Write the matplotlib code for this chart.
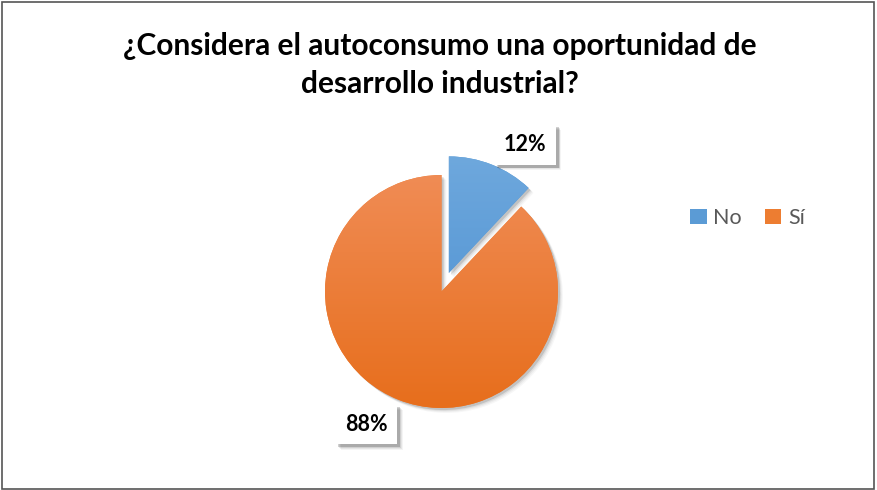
import numpy as np
import matplotlib
matplotlib.use("Agg")
import matplotlib.pyplot as plt
from matplotlib import patheffects as pe
from matplotlib.patches import Rectangle

# --- data ---
categories = ["No", "Sí"]
shares = [12, 88]
colors = ["#5B9BD5", "#ED7D31"]
light_colors = ["#6EA8DD", "#F08C55"]
dark_colors = ["#4A8ED0", "#E76E1C"]
title = "¿Considera el autoconsumo una oportunidad de\ndesarrollo industrial?"

plt.rcParams["font.family"] = ["Lato", "DejaVu Sans"]


def soft_shadow(offset, alpha):
    # a few stacked shadows fake a blurred one
    effs = []
    for k in range(4):
        effs.append(pe.SimplePatchShadow(offset=(offset[0] + k * 0.7, offset[1] - k * 0.7),
                                         shadow_rgbFace="#000000", alpha=alpha / (k + 1)))
    return effs + [pe.Normal()]


W, H = 877, 490
fig = plt.figure(figsize=(W / 100, H / 100), dpi=100)
ax = fig.add_axes([0, 0, 1, 1])
ax.axis("off")

# outer border of the chart area
fig.patches.append(Rectangle((0.002, 0.002), 0.995, 0.994, transform=fig.transFigure,
                             fill=False, edgecolor="#555555", linewidth=1.2))

center = (441.5, 198.5)
radius = 116.5
wedges, _ = ax.pie(shares, colors=colors, startangle=90, counterclock=False,
                   center=center, radius=radius, explode=[20, 0],
                   wedgeprops=dict(linewidth=0))

# soft shading on each slice (lighter on top, darker below)
for w, lc, dc in zip(wedges, light_colors, dark_colors):
    w.set_path_effects(soft_shadow((1.5, -1.5), 0.12))
    c1 = np.array(matplotlib.colors.to_rgb(lc))
    c2 = np.array(matplotlib.colors.to_rgb(dc))
    t = np.linspace(0, 1, 256)[:, None]
    grad = (c1 * (1 - t) + c2 * t)[:, None, :]
    cx, cy = w.center
    im = ax.imshow(grad, extent=(cx - radius, cx + radius, cy - radius, cy + radius),
                   origin="upper", aspect="auto", zorder=w.get_zorder() + 0.1)
    im.set_clip_path(w)
ax.set_xlim(0, W)
ax.set_ylim(0, H)
ax.set_aspect("equal")

# percentage labels with white boxes
label_rot = [-9, -8]
label_dist = [1.28, 1.31]
for w, s, rot, d in zip(wedges, shares, label_rot, label_dist):
    ang = np.deg2rad((w.theta1 + w.theta2) / 2 + rot)
    cx, cy = w.center
    x = cx + d * radius * np.cos(ang)
    y = cy + d * radius * np.sin(ang)
    t = ax.text(x, y, f"{s}%", ha="center", va="center", fontsize=15.5,
                fontweight="bold", color="#000000", zorder=10,
                bbox=dict(boxstyle="square,pad=0.45", facecolor="white", edgecolor="none"))
    t.get_bbox_patch().set_path_effects(soft_shadow((2, -2), 0.18))

ax.text(440, H - 65, title, ha="center", va="center", fontsize=21.5,
        fontweight="bold", color="#000000", linespacing=1.45)

handles = [Rectangle((0, 0), 1, 1, facecolor=c) for c in colors]
fig.legend(handles, categories, loc="center left", bbox_to_anchor=(671 / W, 1 - 218 / H),
           ncol=2, frameon=False, fontsize=15.5, labelcolor="#595959",
           handlelength=0.75, handleheight=0.75, handletextpad=0.3, columnspacing=1.1)

fig.savefig("out.png", dpi=100)
